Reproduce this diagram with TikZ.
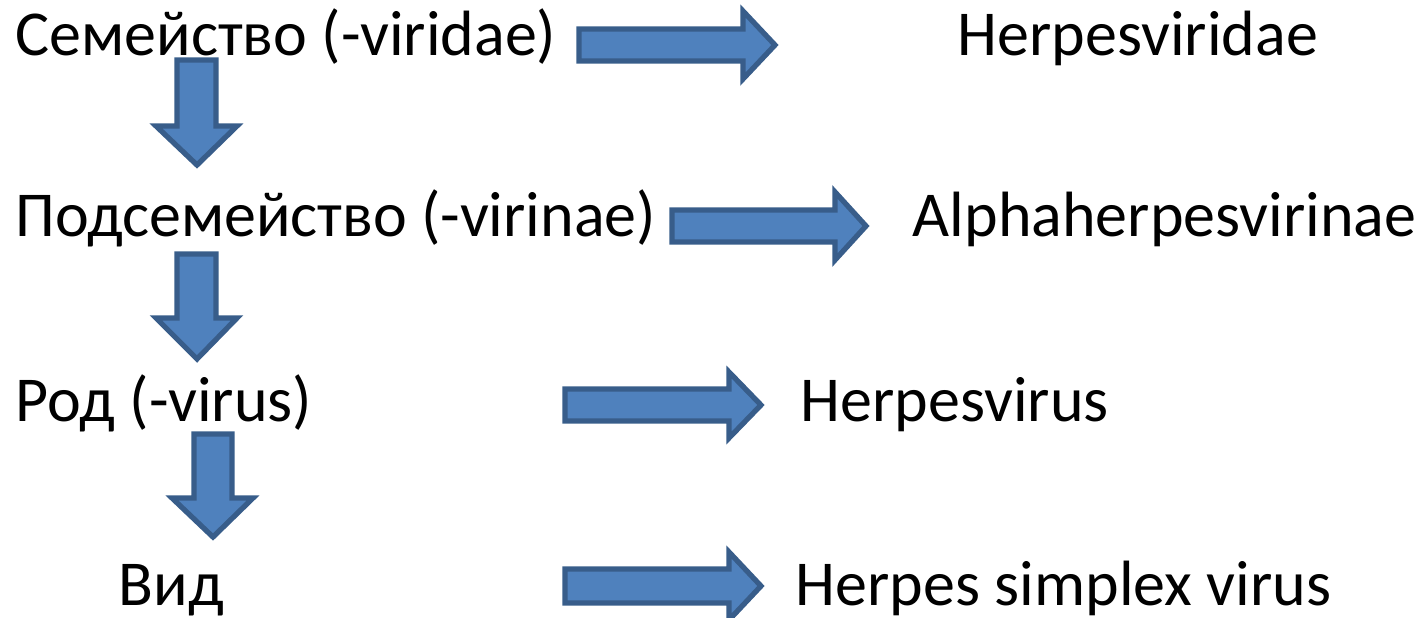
\documentclass[tikz,border=0pt]{standalone}
\usepackage{fontspec}
\setmainfont{Carlito}
\tikzset{blockarrow/.style={fill={rgb,255:red,79;green,129;blue,189}, draw={rgb,255:red,56;green,93;blue,138}, line width=1.5pt, line join=miter},
  lbl/.style={anchor=base west, inner sep=0pt, font=\fontsize{18.2}{22}\selectfont}}
\begin{document}
\begin{tikzpicture}[x=0.01cm, y=-0.01cm]
	\useasboundingbox (0,0) rectangle (1423,617);
	\node[lbl] (fam) at (15,55) {Семейство (-viridae)};
	\node[lbl] (subfam) at (15,236) {Подсемейство (-virinae)};
	\node[lbl] (gen) at (15,421) {Род (-virus)};
	\node[lbl] (sp) at (118,605) {Вид};
	\node[lbl] (famx) at (957,55) {Herpesviridae};
	\node[lbl] (subfamx) at (912,236) {Alphaherpesvirinae};
	\node[lbl] (genx) at (800,421) {Herpesvirus};
	\node[lbl] (spx) at (795,605) {Herpes simplex virus};
	% arrows to the right
	\draw[blockarrow] (579,29) -- (743,29) -- (743,11) -- (775,45) -- (743,79) -- (743,61) -- (579,61) -- cycle;
	\draw[blockarrow] (672,210) -- (835,210) -- (835,192) -- (866,226) -- (835,260) -- (835,242) -- (672,242) -- cycle;
	\draw[blockarrow] (565,389) -- (729,389) -- (729,372) -- (761,405) -- (729,438) -- (729,421) -- (565,421) -- cycle;
	\draw[blockarrow] (565,569) -- (729,569) -- (729,552) -- (761,586) -- (729,620) -- (729,603) -- (565,603) -- cycle;
	% arrows down
	\draw[blockarrow] (177,60) -- (216,60) -- (216,126) -- (237,126) -- (197,165) -- (156,126) -- (177,126) -- cycle;
	\draw[blockarrow] (177,254) -- (216,254) -- (216,318) -- (237,318) -- (197,359) -- (156,318) -- (177,318) -- cycle;
	\draw[blockarrow] (194,434) -- (232,434) -- (232,498) -- (253,498) -- (213,537) -- (172,498) -- (194,498) -- cycle;
\end{tikzpicture}
\end{document}
